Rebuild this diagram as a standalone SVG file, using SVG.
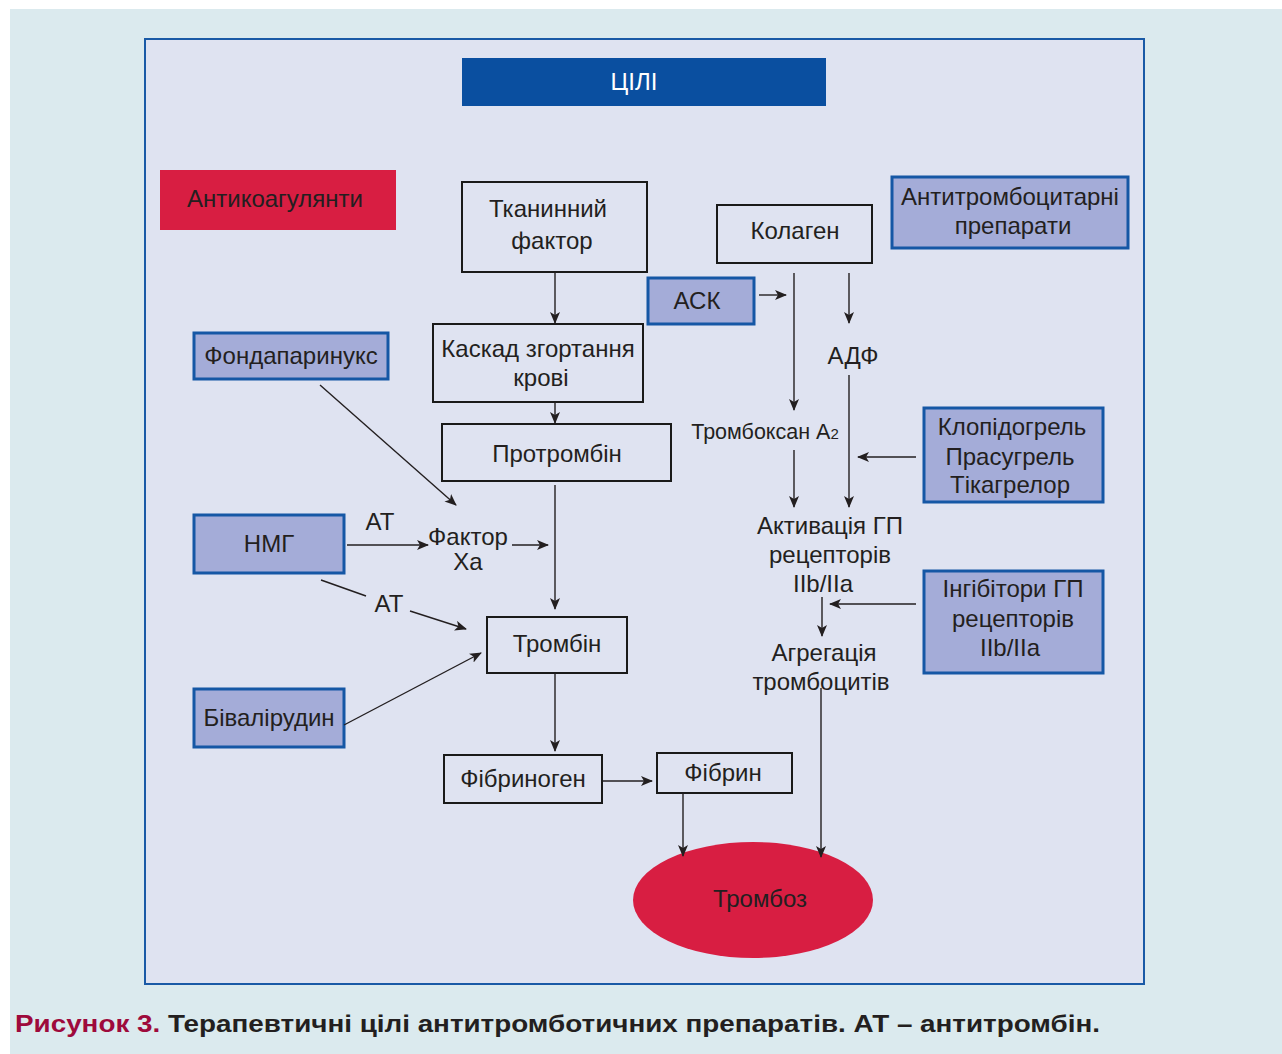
<svg xmlns="http://www.w3.org/2000/svg" width="1282" height="1054" viewBox="0 0 1282 1054">
<style>
text{font-family:"Liberation Sans",Arial,sans-serif;font-size:24px;fill:#231f20;text-anchor:middle}
.box{fill:none;stroke:#1a1a1a;stroke-width:2}
.drug{fill:#a4acd8;stroke:#1557a5;stroke-width:3}
.ln{fill:none;stroke:#231f20;stroke-width:1.4}
</style>
<defs>
<marker id="ah" viewBox="0 0 12 10" refX="11" refY="5" markerWidth="12" markerHeight="10" markerUnits="userSpaceOnUse" orient="auto">
<path d="M0,0 L12,5 L0,10 L3,5 z" fill="#231f20"/>
</marker>
</defs>
<rect x="0" y="0" width="1282" height="1054" fill="#ffffff"/>
<rect x="10" y="9" width="1272" height="1045" fill="#dbeaee"/>
<rect x="145" y="39" width="999" height="945" fill="#dfe3f1" stroke="#1a5aa6" stroke-width="2"/>

<g id="goals"><rect x="462" y="58" width="364" height="48" fill="#0a4fa0"/><text x="634" y="90" style="fill:#fff">ЦІЛІ</text></g>
<g id="anticoag"><rect x="160" y="170" width="236" height="60" fill="#d81e42"/><text x="275" y="207">Антикоагулянти</text></g>
<g id="tissue"><rect class="box" x="462" y="182" width="185" height="90"/><text x="548" y="217">Тканинний</text><text x="552" y="249">фактор</text></g>
<g id="collagen"><rect class="box" x="717" y="205" width="155" height="58"/><text x="795" y="239">Колаген</text></g>
<g id="antiplatelet"><rect class="drug" x="892" y="177" width="236" height="71"/><text x="1010" y="205">Антитромбоцитарні</text><text x="1013" y="234">препарати</text></g>
<g id="ask"><rect class="drug" x="648" y="278" width="106" height="46"/><text x="697" y="309">АСК</text></g>
<g id="fonda"><rect class="drug" x="194" y="333" width="194" height="46"/><text x="291" y="364">Фондапаринукс</text></g>
<g id="cascade"><rect class="box" x="433" y="324" width="210" height="78"/><text x="538" y="357">Каскад згортання</text><text x="541" y="386">крові</text></g>
<g id="prothrombin"><rect class="box" x="442" y="424" width="229" height="57"/><text x="557" y="462">Протромбін</text></g>
<g id="lmwh"><rect class="drug" x="194" y="515" width="150" height="58"/><text x="269" y="552">НМГ</text></g>
<g id="thrombin"><rect class="box" x="487" y="617" width="140" height="56"/><text x="557" y="652">Тромбін</text></g>
<g id="bival"><rect class="drug" x="194" y="689" width="150" height="58"/><text x="269" y="726">Бівалірудин</text></g>
<g id="fibrinogen"><rect class="box" x="444" y="755" width="158" height="48"/><text x="523" y="787">Фібриноген</text></g>
<g id="fibrin"><rect class="box" x="657" y="753" width="135" height="40"/><text x="723" y="781">Фібрин</text></g>
<g id="clopi"><rect class="drug" x="924" y="408" width="179" height="94"/><text x="1012" y="435">Клопідогрель</text><text x="1010" y="465">Прасугрель</text><text x="1010" y="493">Тікагрелор</text></g>
<g id="gpinh"><rect class="drug" x="924" y="571" width="179" height="102"/><text x="1013" y="597">Інгібітори ГП</text><text x="1013" y="627">рецепторів</text><text x="1010" y="656">IIb/IIa</text></g>
<g id="thrombosis"><ellipse cx="753" cy="900" rx="120" ry="58" fill="#d81e42"/><text x="760" y="907">Тромбоз</text></g>

<g id="labels">
<text x="853" y="364">АДФ</text>
<text x="765" y="439" style="font-size:21.5px">Тромбоксан A<tspan style="font-size:15px">2</tspan></text>
<text x="830" y="534">Активація ГП</text>
<text x="830" y="563">рецепторів</text>
<text x="823" y="592">IIb/IIa</text>
<text x="824" y="661">Агрегація</text>
<text x="821" y="690">тромбоцитів</text>
<text x="468" y="545">Фактор</text>
<text x="468" y="570">Xa</text>
<text x="380" y="530">АТ</text>
<text x="389" y="612">АТ</text>
</g>

<g id="connectors">
<line class="ln" x1="555" y1="272" x2="555" y2="323" marker-end="url(#ah)"/>
<line class="ln" x1="555" y1="402" x2="555" y2="423" marker-end="url(#ah)"/>
<line class="ln" x1="555" y1="485" x2="555" y2="609" marker-end="url(#ah)"/>
<line class="ln" x1="555" y1="673" x2="555" y2="751" marker-end="url(#ah)"/>
<line class="ln" x1="603" y1="781" x2="652" y2="781" marker-end="url(#ah)"/>
<line class="ln" x1="683" y1="793" x2="683" y2="856" marker-end="url(#ah)"/>
<line class="ln" x1="821" y1="688" x2="821" y2="857" marker-end="url(#ah)"/>
<line class="ln" x1="320" y1="385" x2="456" y2="505" marker-end="url(#ah)"/>
<line class="ln" x1="347" y1="545" x2="428" y2="545" marker-end="url(#ah)"/>
<line class="ln" x1="512" y1="545" x2="548" y2="545" marker-end="url(#ah)"/>
<line class="ln" x1="321" y1="580" x2="366" y2="596"/>
<line class="ln" x1="410" y1="611" x2="466" y2="629" marker-end="url(#ah)"/>
<line class="ln" x1="344" y1="725" x2="481" y2="653" marker-end="url(#ah)"/>
<line class="ln" x1="759" y1="295" x2="786" y2="295" marker-end="url(#ah)"/>
<line class="ln" x1="794" y1="273" x2="794" y2="410" marker-end="url(#ah)"/>
<line class="ln" x1="849" y1="273" x2="849" y2="323" marker-end="url(#ah)"/>
<line class="ln" x1="849" y1="375" x2="849" y2="507" marker-end="url(#ah)"/>
<line class="ln" x1="794" y1="450" x2="794" y2="507" marker-end="url(#ah)"/>
<line class="ln" x1="916" y1="457" x2="858" y2="457" marker-end="url(#ah)"/>
<line class="ln" x1="916" y1="604" x2="830" y2="604" marker-end="url(#ah)"/>
<line class="ln" x1="822" y1="597" x2="822" y2="636" marker-end="url(#ah)"/>
</g>

<text x="15" y="1032" textLength="1085" lengthAdjust="spacingAndGlyphs" style="text-anchor:start;font-weight:bold;font-size:23px"><tspan style="fill:#9e0a3c">Рисунок 3.</tspan> Терапевтичні цілі антитромботичних препаратів. АТ – антитромбін.</text>
</svg>
